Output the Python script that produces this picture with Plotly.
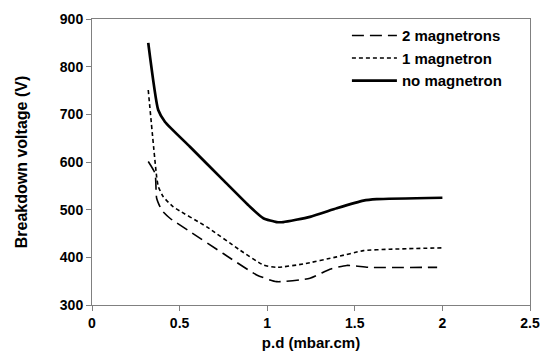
import plotly.graph_objects as go

x_none = [0.321, 0.378, 0.417, 0.559, 0.749, 0.902, 0.978, 1.054, 1.092, 1.244, 1.397, 1.549, 1.625, 2.0]
v_none = [850, 709, 684, 632, 562, 506, 482, 474, 474, 485, 503, 519, 522, 525]

x_one = [0.321, 0.369, 0.379, 0.407, 0.464, 0.655, 0.845, 0.978, 1.054, 1.206, 1.397, 1.549, 1.70, 2.0]
v_one = [751, 569, 548, 527, 506, 464, 415, 384, 379, 386, 401, 414, 417, 420]

x_two = [0.321, 0.36, 0.369, 0.398, 0.445, 0.559, 0.749, 0.94, 1.054, 1.244, 1.358, 1.454, 1.587, 1.97]
v_two = [601, 576, 524, 499, 482, 454, 408, 363, 349, 356, 375, 383, 379, 379]

x_ticks = [0, 0.5, 1, 1.5, 2, 2.5]
x_tick_labels = ["0", "0.5", "1", "1.5", "2", "2.5"]
y_ticks = [300, 400, 500, 600, 700, 800, 900]

font_family = "Liberation Sans, Arial, sans-serif"
bold15 = dict(family=font_family, size=15, color="black", weight="bold")
bold14 = dict(family=font_family, size=14, color="black", weight="bold")
bold16 = dict(family=font_family, size=16, color="black", weight="bold")

fig = go.Figure()
fig.add_trace(go.Scatter(x=x_two, y=v_two, mode="lines", name="2 magnetrons",
                         line=dict(color="black", width=1.6, dash="12px,6px", shape="spline", smoothing=0.5)))
fig.add_trace(go.Scatter(x=x_one, y=v_one, mode="lines", name="1 magnetron",
                         line=dict(color="black", width=1.6, dash="4px,3px", shape="spline", smoothing=0.5)))
fig.add_trace(go.Scatter(x=x_none, y=v_none, mode="lines", name="no magnetron",
                         line=dict(color="black", width=2.7, shape="spline", smoothing=0.5)))

axis_common = dict(showgrid=False, zeroline=False, showline=True, linecolor="#808080", linewidth=1,
                   mirror=True, ticks="outside", ticklen=5, tickcolor="#808080", automargin=False,
                   tickfont=bold14)

fig.update_layout(
    width=541, height=353,
    margin=dict(l=92, r=11, t=19, b=48),
    paper_bgcolor="white", plot_bgcolor="white",
    showlegend=True,
    legend=dict(x=0.582, y=0.999, xanchor="left", yanchor="top", bgcolor="rgba(0,0,0,0)",
                font=bold15, tracegroupgap=0, itemwidth=45),
    xaxis=dict(range=[0, 2.5], tickvals=x_ticks, ticktext=x_tick_labels,
               title=dict(text="p.d (mbar.cm)", font=bold15, standoff=7),
               **axis_common),
    yaxis=dict(range=[300, 900], tickvals=y_ticks,
               title=dict(text="Breakdown voltage (V)", font=bold16, standoff=28),
               **axis_common),
)

fig.write_html("out.html", config={"displayModeBar": False},
               post_script="document.body.style.margin='0';document.body.style.overflow='hidden';")
